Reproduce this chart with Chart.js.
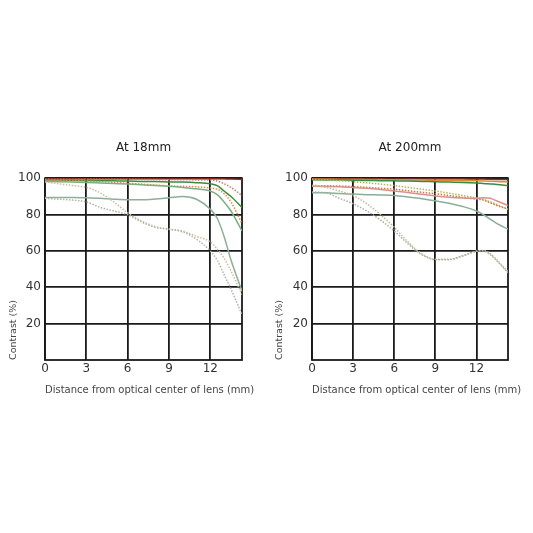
<!DOCTYPE html>
<html><head><meta charset="utf-8">
<script src="https://cdn.jsdelivr.net/npm/chart.js@4"></script>
<style>
html,body{margin:0;padding:0;background:#fff;width:533px;height:533px;overflow:hidden}
canvas{position:absolute}
</style></head><body>
<canvas id="c1" width="266" height="280" style="left:0;top:130px"></canvas>
<canvas id="c2" width="267" height="280" style="left:266px;top:130px"></canvas>
<script>
// ---- data ----
const X_POS   = [0,1,2,3,4,5,6,7,8,9,10,11,12,12.5,13,13.5,14.3];
const X_TICKS = [0,3,6,9,12];
const Y_TICKS = [20,40,60,80,100];
const X_MAX   = 14.3;
const TITLE_LEFT  = 'At 18mm';
const TITLE_RIGHT = 'At 200mm';
const X_TITLE = 'Distance from optical center of lens (mm)';
const Y_TITLE = 'Contrast (%)';

// At 18mm
const W_RED_S    = [99.8,99.8,99.8,99.8,99.8,99.8,99.8,99.8,99.8,99.8,99.8,99.8,99.8,99.8,99.7,99.6,99.4];
const W_RED_M    = [99.5,99.5,99.5,99.5,99.5,99.5,99.5,99.4,99.3,99.2,99.2,99.1,99,98.5,97,95,90.5];
const W_ORANGE_M = [99,98.9,98.7,98.5,98.2,97.8,97.3,96.8,96.3,95.8,95.6,95.3,94.7,94,91.5,87,75];
const W_GREEN_S  = [99,99,98.9,98.8,98.7,98.6,98.5,98.3,98.2,98,97.9,97.6,97,96,93,90,84];
const W_GREEN_M  = [98.3,98.1,97.9,97.7,97.4,97.1,96.8,96.4,96,95.6,95,94.2,93,91,87,82,71];
const W_GRAY_S   = [89.5,89.5,89.5,89.3,89,88.5,88.2,88.2,88.6,89.3,90,88.5,83,78,68,55,38];
const W_TAN_M    = [98,97,96,95,92,87,81,76.5,73.5,72,71,68,65,61,56,49,36];
const W_GRAY_M   = [89,88.5,88,87,84,82,80,76,73,72,70.5,66.5,60,55,47,39,25];

// At 200mm
const T_RED_S    = [100,100,100,100,100,100,99.9,99.9,99.8,99.8,99.7,99.7,99.6,99.6,99.5,99.4,99.3];
const T_ORANGE_S = [99.6,99.6,99.5,99.5,99.4,99.3,99.2,99.1,99,98.9,98.8,98.7,98.6,98.5,98.4,98.3,98];
const T_GREEN_S  = [99.2,99.1,99,98.9,98.8,98.7,98.6,98.5,98.3,98.1,97.9,97.7,97.4,97.2,96.9,96.6,96];
const T_OLIVE_M  = [99.5,99.2,98.7,98.1,97.5,96.8,96,95,94,93,91.8,90.5,89.2,88.5,87,85.5,83];
const T_ORANGE_M = [96,95.9,95.7,95.4,95,94.5,94,93.2,92.3,91.5,90.5,89.5,88.5,88,86.5,85,83];
const T_PINK_S   = [95.6,95.5,95.3,95,94.5,93.8,93,92.2,91.2,90.3,89.6,89.2,89,89.3,89,87.5,85];
const T_GRAY_S   = [92,92,91.6,91.3,91,90.8,90.5,89.7,88.8,87.6,86.3,84.5,82,80,77.5,75,72];
const T_TAN_M    = [96,95,93,90.5,86,80,73,65,58.5,55.5,55.5,57.5,60,60.3,58.5,55,48.5];
const T_GRAY_M   = [92.5,92,89,86,82,77,71,64,58,55.2,55.2,57.2,59.8,60,58,54.5,48];

// ---- styling ----
const LEFT_SERIES = [
  {v:W_GRAY_M,   c:'#aeb2a8', d:true},
  {v:W_TAN_M,    c:'#cbbb9c', d:true},
  {v:W_GRAY_S,   c:'#8fae98', d:false},
  {v:W_GREEN_M,  c:'#7fae82', d:false},
  {v:W_ORANGE_M, c:'#d98c50', d:true},
  {v:W_GREEN_S,  c:'#3d8a3d', d:false},
  {v:W_RED_M,    c:'#c08078', d:true},
  {v:W_RED_S,    c:'#a5301e', d:false}
];
const RIGHT_SERIES = [
  {v:T_GRAY_M,   c:'#aab0a6', d:true},
  {v:T_TAN_M,    c:'#c6b694', d:true},
  {v:T_GRAY_S,   c:'#8aae98', d:false},
  {v:T_PINK_S,   c:'#d89090', d:false},
  {v:T_ORANGE_M, c:'#c8783a', d:true},
  {v:T_OLIVE_M,  c:'#b4b468', d:true},
  {v:T_GREEN_S,  c:'#3a8a45', d:false},
  {v:T_ORANGE_S, c:'#e08a30', d:false},
  {v:T_RED_S,    c:'#8a3020', d:false}
];

const GRID = '#1a1a1a';
const FONT = 'DejaVu Sans';

const frame = {
  id:'frame',
  beforeDatasetsDraw(chart){
    const {ctx, chartArea:a} = chart;
    ctx.save(); ctx.strokeStyle = GRID; ctx.lineWidth = 1.8;
    ctx.strokeRect(a.left, a.top, a.right - a.left, a.bottom - a.top);
    ctx.restore();
  },
  afterDraw(chart){
    const {ctx, chartArea:a} = chart;
    ctx.save(); ctx.font = '10px "' + FONT + '"'; ctx.fillStyle = '#444';
    ctx.textAlign = 'left'; ctx.textBaseline = 'middle';
    ctx.fillText(X_TITLE, a.left, a.bottom + 30);
    ctx.restore();
  }
};

function makeChart(id, title, series, padRight, yWidth){
  return new Chart(document.getElementById(id), {
    type:'line',
    data:{ datasets: series.map(s => ({
      data: X_POS.map((x,i) => ({x:x, y:s.v[i]})),
      borderColor:s.c, borderWidth:1.5, borderDash:s.d ? [1.5,1.5] : [],
      pointRadius:0, tension:0.4, cubicInterpolationMode:'monotone', fill:false
    }))},
    options:{
      responsive:false, animation:false, devicePixelRatio:1,
      layout:{padding:{left:0, right:padRight, top:0, bottom:0}},
      plugins:{
        legend:{display:false}, tooltip:{enabled:false},
        title:{display:true, text:title, fullSize:false, color:'#222',
          font:{family:FONT, size:12, weight:'normal'}, padding:{top:10.8, bottom:23.1}}
      },
      scales:{
        x:{type:'linear', min:0, max:X_MAX,
          afterBuildTicks:s => { s.ticks = X_TICKS.map(v => ({value:v})); },
          afterFit:s => { s.height = 50; },
          grid:{color:GRID, lineWidth:1.8, drawTicks:false},
          border:{display:false},
          ticks:{padding:2, color:'#333', maxRotation:0, font:{family:FONT, size:12}}
        },
        y:{type:'linear', min:0, max:100,
          afterBuildTicks:s => { s.ticks = Y_TICKS.map(v => ({value:v})); },
          afterFit:s => { s.width = yWidth; },
          grid:{color:GRID, lineWidth:1.8, drawTicks:false},
          border:{display:false},
          ticks:{padding:4, color:'#333', font:{family:FONT, size:12}},
          title:{display:true, text:Y_TITLE, align:'start', color:'#444',
            font:{family:FONT, size:9.5}, padding:{top:7.5, bottom:0}}
        }
      }
    },
    plugins:[frame]
  });
}

makeChart('c1', TITLE_LEFT, LEFT_SERIES, 24, 45);
makeChart('c2', TITLE_RIGHT, RIGHT_SERIES, 25, 46);
</script>
</body></html>
